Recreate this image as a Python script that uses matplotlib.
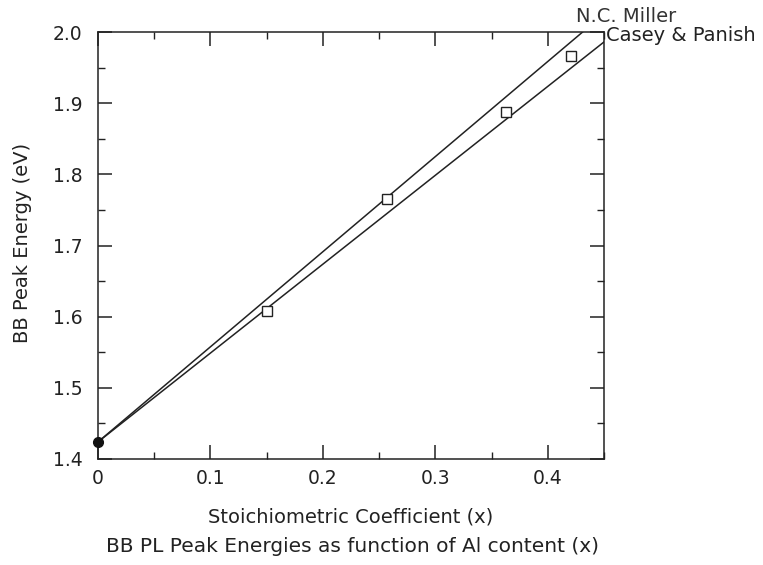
import matplotlib
matplotlib.use("Agg")
import matplotlib.pyplot as plt
from matplotlib.ticker import MultipleLocator

# Data
x_meas = [0.150, 0.257, 0.363, 0.421]
e_meas = [1.608, 1.766, 1.887, 1.966]
x_gaas = [0.0]
e_gaas = [1.424]
miller_x = [0.0, 0.431]
miller_e = [1.424, 2.0]
casey_x = [0.0, 0.45]
casey_e = [1.424, 1.986]
xticks = [0, 0.1, 0.2, 0.3, 0.4]
xticklabels = ["0", "0.1", "0.2", "0.3", "0.4"]
yticks = [1.4, 1.5, 1.6, 1.7, 1.8, 1.9, 2.0]
yticklabels = ["1.4", "1.5", "1.6", "1.7", "1.8", "1.9", "2.0"]

fig = plt.figure(figsize=(7.63, 5.65), dpi=100)
ax = fig.add_axes([98/763, 106/565, 506/763, 427/565])

ink = "#222222"
ax.plot(miller_x, miller_e, color=ink, lw=1.1)
ax.plot(casey_x, casey_e, color=ink, lw=1.1)
ax.plot(x_meas, e_meas, linestyle="none", marker="s", markersize=7,
        markerfacecolor="white", markeredgecolor=ink, markeredgewidth=1.0)
ax.plot(x_gaas, e_gaas, linestyle="none", marker="o", markersize=7,
        color="#111111", clip_on=False, zorder=5)

ax.set_xlim(0, 0.45)
ax.set_ylim(1.4, 2.0)
ax.set_xticks(xticks)
ax.set_xticklabels(xticklabels)
ax.set_yticks(yticks)
ax.set_yticklabels(yticklabels)
ax.xaxis.set_minor_locator(MultipleLocator(0.05))
ax.yaxis.set_minor_locator(MultipleLocator(0.05))
ax.tick_params(which="both", direction="in", top=True, right=True,
               colors=ink, labelsize=13.5)
ax.tick_params(axis="x", which="major", pad=7)
ax.tick_params(axis="y", which="major", pad=11)
ax.tick_params(which="major", length=10, width=1.1)
ax.tick_params(which="minor", length=5, width=1.0)
for s in ax.spines.values():
    s.set_linewidth(1.1)
    s.set_color(ink)

ax.set_xlabel("Stoichiometric Coefficient (x)", fontsize=14, color=ink)
ax.xaxis.set_label_coords(0.5, (459 - 517) / 427)
ax.xaxis.label.set_va("center")
ax.set_ylabel("BB Peak Energy (eV)", fontsize=14, color=ink)
ax.yaxis.set_label_coords((23 - 98) / 506, (459 - 243) / 427)
ax.yaxis.label.set_va("center")

ax.annotate("N.C. Miller", xy=(0.425, 2.0), xytext=(0, 4), textcoords="offset points",
            fontsize=14, color="#333333", ha="left", va="bottom", annotation_clip=False)
ax.annotate("Casey & Panish", xy=(0.4515, 1.986), xytext=(0, 4.5), textcoords="offset points",
            fontsize=14, color=ink, ha="left", va="center", annotation_clip=False)

fig.text(352/763, 1 - 547/565, "BB PL Peak Energies as function of Al content (x)",
         fontsize=14.5, color=ink, ha="center", va="center")

fig.savefig("out.png", dpi=100)
